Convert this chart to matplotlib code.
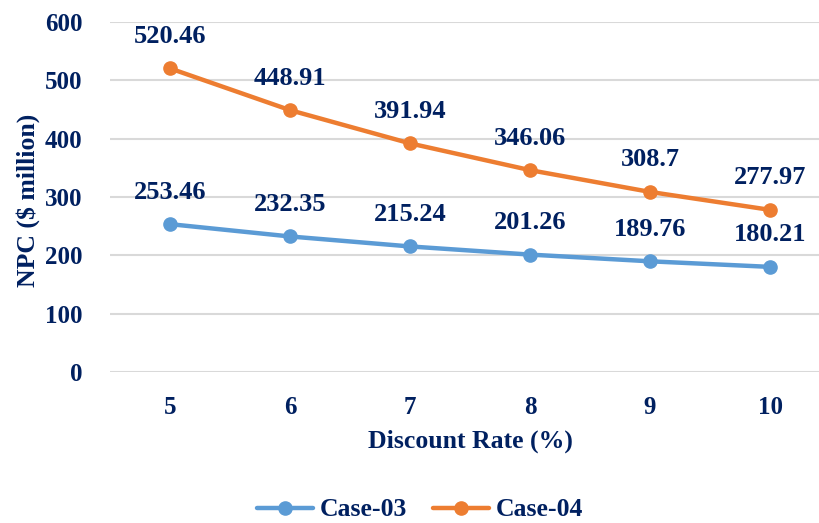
import matplotlib
matplotlib.use("Agg")
import matplotlib.pyplot as plt

rates = [5, 6, 7, 8, 9, 10]
case03 = [253.46, 232.35, 215.24, 201.26, 189.76, 180.21]
case04 = [520.46, 448.91, 391.94, 346.06, 308.7, 277.97]
case03_labels = ["253.46", "232.35", "215.24", "201.26", "189.76", "180.21"]
case04_labels = ["520.46", "448.91", "391.94", "346.06", "308.7", "277.97"]
yticks = [0, 100, 200, 300, 400, 500, 600]

navy = "#002060"
blue = "#5B9BD5"
orange = "#ED7D31"
grid = "#D9D9D9"

plt.rcParams["font.family"] = ["Liberation Serif", "DejaVu Serif"]
plt.rcParams["font.weight"] = "bold"

fig = plt.figure(figsize=(8.19, 5.23), dpi=100)
ax = fig.add_axes([110 / 819, 1 - 372 / 523, 720 / 819, 350 / 523])

x = list(range(len(rates)))
ax.plot(x, case03, color=blue, lw=3.2, marker="o", ms=9.5, label="Case-03",
        solid_capstyle="round", zorder=3)
ax.plot(x, case04, color=orange, lw=3.2, marker="o", ms=9.5, label="Case-04",
        solid_capstyle="round", zorder=3)

for series, texts in ((case03, case03_labels), (case04, case04_labels)):
    for xi, v, t in zip(x, series, texts):
        ax.annotate(t, (xi, v), xytext=(0, 23), textcoords="offset points",
                    ha="center", va="center", fontsize=19, fontweight="bold", color=navy)

ax.set_xlim(-0.5, len(rates) - 0.5)
ax.set_ylim(0, 600)
ax.set_yticks(yticks)
ax.set_yticklabels([str(v) for v in yticks])
ax.set_xticks(x)
ax.set_xticklabels([str(r) for r in rates])
ax.tick_params(axis="both", length=0, labelsize=18, labelcolor=navy)
ax.tick_params(axis="y", pad=20)
ax.tick_params(axis="x", pad=17)
for lbl in ax.get_xticklabels() + ax.get_yticklabels():
    lbl.set_fontweight("bold")

ax.yaxis.grid(True, color=grid, lw=1.5)
ax.set_axisbelow(True)
for s in ax.spines.values():
    s.set_visible(False)

ax.set_xlabel("Discount Rate (%)", fontsize=18.5, fontweight="bold", color=navy, labelpad=8)
fig.text(28 / 819, 1 - 200 / 523, "NPC ($ million)", rotation=90, ha="center", va="center",
         fontsize=18.5, fontweight="bold", color=navy)

handles, labels = ax.get_legend_handles_labels()
leg = fig.legend(handles, labels, loc="center", bbox_to_anchor=(420 / 819, 1 - 510 / 523),
                 ncol=2, frameon=False, fontsize=18.5, handlelength=2.2, columnspacing=1.0,
                 handletextpad=0.25)
for t in leg.get_texts():
    t.set_color(navy)
    t.set_fontweight("bold")

fig.savefig("out.png", dpi=100)
